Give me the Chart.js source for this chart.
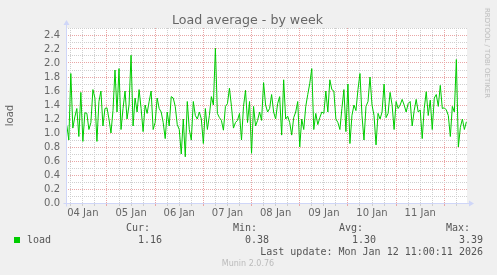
<!DOCTYPE html>
<html><head><meta charset="utf-8">
<script src="https://cdn.jsdelivr.net/npm/chart.js@4/dist/chart.umd.min.js"></script>
<style>
html,body{margin:0;padding:0;background:#F0F0F0;}
#wrap{position:relative;width:497px;height:275px;overflow:hidden;font-family:"DejaVu Sans",sans-serif;}
canvas{position:absolute;left:0;top:0;}
.t{position:absolute;white-space:nowrap;}
.mono{font-family:"DejaVu Sans Mono",monospace;font-size:10px;line-height:12px;color:#555;}
</style></head><body>
<div id="wrap">
<canvas id="c" width="497" height="275"></canvas>
<div class="t" style="left:0;width:495px;text-align:center;top:12px;font-size:12.6px;line-height:16px;color:#666;">Load average - by week</div>
<div class="t" style="left:487px;top:53px;font-size:7px;line-height:8px;color:#bbb;transform:translate(-50%,-50%) rotate(90deg);">RRDTOOL / TOBI OETIKER</div>
<div class="t mono" style="right:347px;top:222px;">Cur:</div>
<div class="t mono" style="right:240px;top:222px;">Min:</div>
<div class="t mono" style="right:134px;top:222px;">Avg:</div>
<div class="t mono" style="right:27px;top:222px;">Max:</div>
<div class="t" style="left:14px;top:237px;width:6px;height:6px;background:#00CC00;"></div>
<div class="t mono" id="legName" style="left:27px;top:234px;"></div>
<div class="t mono" id="vCur" style="right:335px;top:234px;"></div>
<div class="t mono" id="vMin" style="right:228px;top:234px;"></div>
<div class="t mono" id="vAvg" style="right:121px;top:234px;"></div>
<div class="t mono" id="vMax" style="right:14px;top:234px;"></div>
<div class="t mono" style="right:14px;top:246px;">Last update: Mon Jan 12 11:00:11 2026</div>
<div class="t" style="left:0;width:496px;text-align:center;top:259px;font-size:8px;line-height:10px;color:#bbb;">Munin 2.0.76</div>
</div>
<script>
// ---- data ----
const seriesName = 'load';
const startHour = 4; // first sample: 04 Jan 04:00, one sample per hour
const loadValues = [
 1.11,0.90,1.85,1.07,1.23,1.35,0.95,1.58,0.88,1.29,1.28,1.05,1.15,1.62,1.50,0.88,1.45,1.60,1.10,1.35,
 1.36,1.20,1.00,1.32,1.90,1.30,1.92,1.05,1.35,1.60,1.20,1.40,2.11,1.10,1.50,1.30,1.62,1.35,1.02,1.40,
 1.28,1.45,1.60,1.05,1.15,1.50,1.35,1.30,1.15,0.92,1.30,1.10,1.52,1.50,1.38,1.12,1.05,0.70,1.20,0.66,
 1.45,1.05,0.90,1.45,1.25,1.20,1.30,1.20,0.85,1.35,1.05,1.25,1.52,1.40,2.21,1.28,1.22,1.18,1.04,1.38,
 1.42,1.64,1.38,1.07,1.15,1.18,1.28,0.90,1.38,1.61,1.15,1.45,0.71,1.38,1.10,1.18,1.30,1.18,1.72,1.40,
 1.30,1.35,1.55,1.30,1.20,1.42,1.52,0.97,1.76,1.20,1.24,1.15,0.97,1.22,1.30,1.45,0.80,1.20,1.05,1.38,
 1.55,1.71,1.92,1.05,1.28,1.12,1.22,1.30,1.28,1.60,1.30,1.76,1.62,1.60,1.20,1.15,1.05,1.35,1.62,1.02,
 1.70,0.85,1.25,1.40,1.32,1.62,1.85,1.25,0.90,1.38,1.45,1.80,1.40,1.25,0.83,1.28,1.20,1.30,1.70,1.22,
 1.28,1.58,1.40,1.05,1.45,1.35,1.40,1.48,1.40,1.30,1.42,1.45,1.10,1.32,1.48,1.30,1.33,0.92,1.35,1.59,
 1.25,1.47,1.05,1.50,1.55,1.38,1.68,1.35,1.36,1.33,1.25,0.95,1.38,1.30,2.05,0.80,1.08,1.20,1.05,1.16
];
const dayLabels = ['04 Jan','05 Jan','06 Jan','07 Jan','08 Jan','09 Jan','10 Jan','11 Jan'];
const statLabels = ['Cur:','Min:','Avg:','Max:'];
const statValues = ['1.16','0.38','1.30','3.39'];
const xRange = [3.6, 203.3];   // hours since 04 Jan 00:00
const yRange = [0, 2.5];

document.getElementById('legName').textContent = seriesName;
['vCur','vMin','vAvg','vMax'].forEach((id,i)=>document.getElementById(id).textContent = statValues[i]);

const GRID_GRAY = '#cfcfcf';
const GRID_RED = '#e9a6a6';
const AXIS = '#CFD6F8';

const xTicks = []; for (let h = 6; h <= 198; h += 6) xTicks.push(h);
const yTicks = []; for (let k = 0; k <= 25; k++) yTicks.push(k / 10);

const bgPlugin = {
  id: 'bg',
  beforeDraw(chart) {
    const {ctx, chartArea: a} = chart;
    ctx.save(); ctx.fillStyle = '#FFFFFF';
    ctx.fillRect(a.left, a.top, a.right - a.left, a.bottom - a.top);
    ctx.restore();
  },
  afterDatasetsDraw(chart) {
    const {ctx, chartArea: a} = chart;
    const L = Math.round(a.left) + 0.5, B = Math.round(a.bottom) + 0.5;
    ctx.save();
    ctx.strokeStyle = AXIS; ctx.fillStyle = AXIS; ctx.lineWidth = 1;
    ctx.beginPath(); ctx.moveTo(L - 3, B); ctx.lineTo(a.right + 3, B); ctx.stroke();
    ctx.beginPath(); ctx.moveTo(L, B + 3); ctx.lineTo(L, a.top - 3); ctx.stroke();
    ctx.beginPath(); ctx.moveTo(a.right + 7, B); ctx.lineTo(a.right + 2, B - 3); ctx.lineTo(a.right + 2, B + 3); ctx.closePath(); ctx.fill();
    ctx.beginPath(); ctx.moveTo(L, a.top - 8); ctx.lineTo(L - 3, a.top - 3); ctx.lineTo(L + 3, a.top - 3); ctx.closePath(); ctx.fill();
    ctx.restore();
  }
};

Chart.defaults.font.family = "'DejaVu Sans', sans-serif";
Chart.defaults.color = '#666';

new Chart(document.getElementById('c'), {
  type: 'line',
  data: {
    datasets: [{
      label: seriesName,
      data: loadValues.map((v, i) => ({x: startHour + i, y: v})),
      borderColor: '#00CC00', borderWidth: 1, pointRadius: 0, tension: 0, fill: false
    }]
  },
  options: {
    responsive: false, animation: false, devicePixelRatio: 1,
    layout: {padding: {top: 28, right: 30, bottom: 52, left: 0}},
    plugins: {legend: {display: false}, tooltip: {enabled: false}, title: {display: false}},
    scales: {
      x: {
        type: 'linear', min: xRange[0], max: xRange[1],
        afterFit(s) { s.height = 20; },
        afterBuildTicks(s) { s.ticks = xTicks.map(v => ({value: v})); },
        ticks: {
          autoSkip: false, maxRotation: 0, minRotation: 0, padding: 1, color: '#666', font: {size: 10},
          callback(v) { const h = Math.round(v); return (h % 24 === 12) ? dayLabels[(h - 12) / 24] : ''; }
        },
        grid: {
          color(c) { return (c.tick && Math.round(c.tick.value) % 24 === 0) ? GRID_RED : GRID_GRAY; },
          lineWidth: 1, drawTicks: true, tickLength: 3, tickBorderDash: []
        },
        border: {display: false, dash: [1, 1]}
      },
      y: {
        min: yRange[0], max: yRange[1],
        afterFit(s) { s.width = 66; },
        afterBuildTicks(s) { s.ticks = yTicks.map(v => ({value: v})); },
        ticks: {
          autoSkip: false, padding: 6, color: '#666', font: {size: 10},
          callback(v) { const k = Math.round(v * 10); return k % 2 === 0 ? (k / 10).toFixed(1) : ''; }
        },
        grid: {
          color(c) { return (c.tick && Math.round(c.tick.value * 10) % 2 === 0) ? GRID_RED : GRID_GRAY; },
          lineWidth: 1, drawTicks: false
        },
        border: {display: false, dash: [1, 1]},
        title: {display: true, text: 'load', color: '#666', font: {size: 10}, padding: {top: 4, bottom: 0}}
      }
    }
  },
  plugins: [bgPlugin]
});
</script>
</body></html>
